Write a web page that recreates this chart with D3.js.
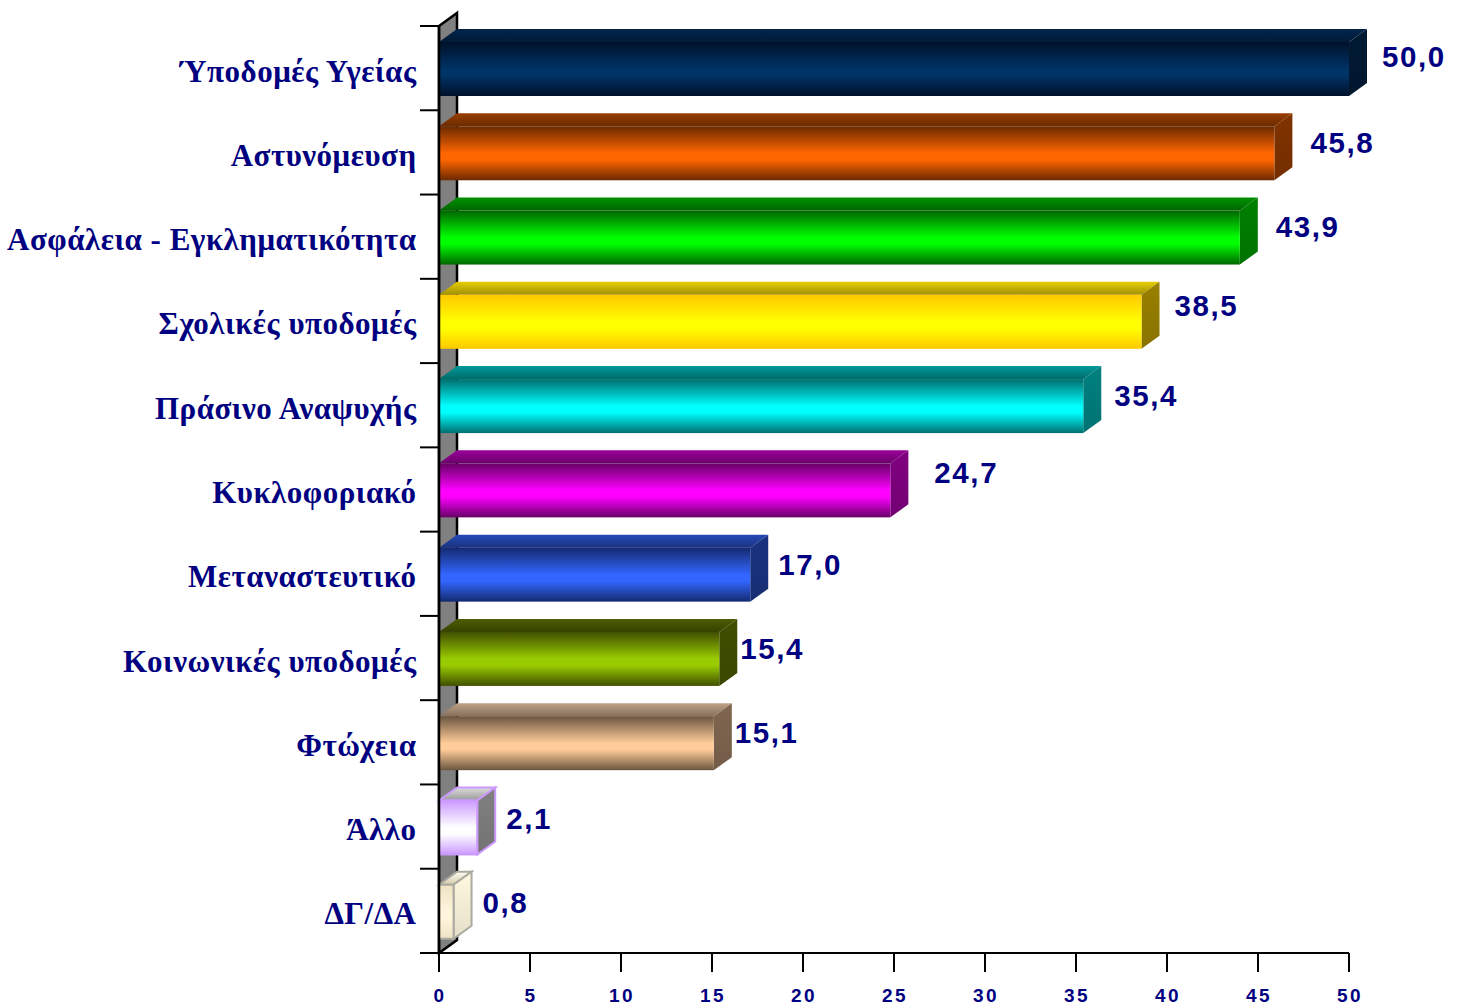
<!DOCTYPE html>
<html><head><meta charset="utf-8">
<script src="https://cdn.jsdelivr.net/npm/d3@7/dist/d3.min.js"></script>
<style>html,body{margin:0;padding:0;background:#fff}svg{display:block}</style>
</head><body><svg id="c" width="1462" height="1007"></svg>
<script>
const categories=["Ύποδομές Υγείας","Αστυνόμευση","Ασφάλεια - Εγκληματικότητα","Σχολικές υποδομές","Πράσινο Αναψυχής","Κυκλοφοριακό","Μεταναστευτικό","Κοινωνικές υποδομές","Φτώχεια","Άλλο","ΔΓ/ΔΑ"];
const values=[50.0,45.9,44.0,38.6,35.4,24.8,17.1,15.4,15.1,2.1,0.8];
const valueLabels=["50,0","45,8","43,9","38,5","35,4","24,7","17,0","15,4","15,1","2,1","0,8"];
const tickValues=[0,5,10,15,20,25,30,35,40,45,50];
const midColors=["#003366","#ff6600","#00ff00","#ffff00","#00ffff","#ff00ff","#3366ff","#99cc00","#ffcc99","#ffffff","#fff5dc"];
const edgeColors=["#00112a","#6b2a00","#006600","#ffc800","#006f6f","#660066","#142a70","#404f00","#6b5540","#cc99ff","#efe3c4"];
const sideColors=["#001a33","#803300","#008000","#998000","#008080","#800080","#1a3380","#404f00","#806650","#808080","#fff8e0"];
const topColors=["#001f40","#803300","#007a00","#c0ac00","#008080","#800080","#1f3d99","#404f00","#a08770","#b8b8b8","#fff2cc"];
const borderColors=[null,null,null,null,null,null,null,null,null,"#cc99ff","#aaaaa0"];
const labelOffsets=[[33,-1.5],[36,1],[36,0],[33,-4.5],[31,1],[44,-6.5],[28,1],[21,1],[21,1],[29,3],[29,2]];

const svg=d3.select("#c");
const x=d3.scaleLinear().domain([0,50]).range([439,1349]);
const y=d3.scaleBand().domain(categories).range([26,953]);
const dx=18,dy=13,navy="#000080";
const frontTop=16,frontH=54;
const defs=svg.append("defs");
function grad(id,stops){
  const g=defs.append("linearGradient").attr("id",id).attr("x1",0).attr("y1",0).attr("x2",0).attr("y2",1);
  stops.forEach(s=>g.append("stop").attr("offset",s[0]).attr("stop-color",s[1]));
}
categories.forEach((c,i)=>{
  grad("f"+i,[[0,edgeColors[i]],[0.5,midColors[i]],[0.62,midColors[i]],[1,edgeColors[i]]]);
  grad("t"+i,[[0,d3.color(topColors[i]).brighter(0.5).formatHex()],[1,d3.color(topColors[i]).darker(0.5).formatHex()]]);
  grad("s"+i,[[0,sideColors[i]],[1,d3.color(sideColors[i]).darker(0.3).formatHex()]]);
});
const [y0,y1]=y.range();
const line=d3.line();
svg.append("path").attr("d",line([[x(0),y0],[x(0)+dx,y0-dy],[x(0)+dx,y1-dy],[x(0),y1]])+"Z")
  .attr("fill","#808080").attr("stroke","#000").attr("stroke-width",2.5);
const ticksY=categories.map(c=>y(c)).concat([y1]);
svg.append("g").selectAll("line").data(ticksY).join("line")
  .attr("x1",x(0)-19).attr("x2",x(0)).attr("y1",d=>d).attr("y2",d=>d)
  .attr("stroke","#000").attr("stroke-width",2);
const bars=svg.append("g").selectAll("g").data(categories).join("g");
bars.each(function(c,i){
  const g=d3.select(this),L=x(0),R=x(values[i]),T=y(c)+frontTop,B=T+frontH,b=borderColors[i];
  const st=s=>s.attr("stroke",b||"none").attr("stroke-width",b?2:0);
  st(g.append("path").attr("d",line([[L,T],[L+dx,T-dy],[R+dx,T-dy],[R,T]])+"Z").attr("fill",`url(#t${i})`));
  st(g.append("path").attr("d",line([[R,T],[R+dx,T-dy],[R+dx,B-dy],[R,B]])+"Z").attr("fill",`url(#s${i})`));
  st(g.append("rect").attr("x",L).attr("y",T).attr("width",R-L).attr("height",frontH).attr("fill",`url(#f${i})`));
});
svg.append("line").attr("x1",x(0)).attr("x2",x(0)).attr("y1",y0).attr("y2",y1).attr("stroke","#000").attr("stroke-width",2.5);
svg.append("line").attr("x1",x(0)-19).attr("x2",x(50)).attr("y1",y1).attr("y2",y1).attr("stroke","#000").attr("stroke-width",2);
const tg=svg.append("g").selectAll("g").data(tickValues).join("g").attr("transform",d=>`translate(${x(d)},0)`);
tg.append("line").attr("y1",y1).attr("y2",y1+19).attr("stroke","#000").attr("stroke-width",2);
tg.append("text").attr("x",1).attr("y",1002).attr("text-anchor","middle").text(d=>d)
  .attr("font-family","'Liberation Sans',Arial,sans-serif").attr("font-weight","bold").attr("font-size",19).attr("letter-spacing",2.5).attr("fill",navy);
svg.append("g").selectAll("text").data(categories).join("text")
  .attr("x",416.5).attr("y",c=>y(c)+y.bandwidth()/2+13.5).attr("text-anchor","end").text(c=>c)
  .attr("font-family","'Liberation Serif','Times New Roman',serif").attr("font-weight","bold").attr("font-size",31).attr("letter-spacing",0.5).attr("fill",navy);
svg.append("g").selectAll("text").data(values).join("text")
  .attr("x",(d,i)=>x(d)+labelOffsets[i][0]).attr("y",(d,i)=>y(categories[i])+32+labelOffsets[i][1]+10)
  .text((d,i)=>valueLabels[i])
  .attr("font-family","'Liberation Sans',Arial,sans-serif").attr("font-weight","bold").attr("font-size",29.5).attr("letter-spacing",1.6).attr("fill",navy);
</script></body></html>
